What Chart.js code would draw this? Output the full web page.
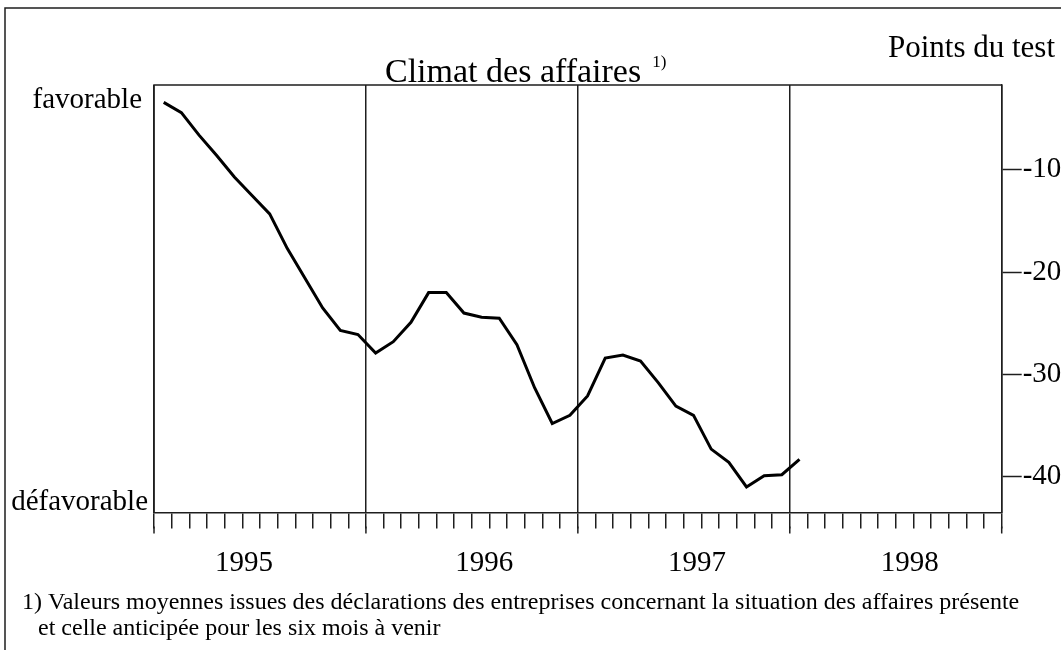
<!DOCTYPE html>
<html>
<head>
<meta charset="utf-8">
<script src="https://cdn.jsdelivr.net/npm/chart.js@4.4.1/dist/chart.umd.min.js"></script>
<style>
html, body { margin: 0; padding: 0; background: #fff; overflow: hidden; }
</style>
</head>
<body>
<canvas id="chart" width="1061" height="650"></canvas>
<script>
// Climat des affaires, valeurs mensuelles de janv. 1995 à janv. 1998 (points du test)
var yearLabels = ['1995', '1996', '1997', '1998'];
var values = [
    -3.4, -4.4, -6.6, -8.6, -10.7, -12.5, -14.3, -17.7, -20.6, -23.5, -25.7, -26.1,
    -27.9, -26.8, -24.9, -22.0, -22.0, -24.0, -24.4, -24.5, -27.1, -31.3, -34.8, -34.0,
    -32.1, -28.4, -28.1, -28.7, -30.8, -33.1, -34.0, -37.3, -38.6, -41.0, -39.9, -39.8,
    -38.3
];
var yTicks = [-10, -20, -30, -40];
var titleText = 'Climat des affaires';
var unitText = 'Points du test';
var topLabel = 'favorable';
var bottomLabel = 'défavorable';
var footnote = [
    '1) Valeurs moyennes issues des déclarations des entreprises concernant la situation des affaires présente',
    'et celle anticipée pour les six mois à venir'
];

var ink = '#1e1e1e';
var serif = "'Liberation Serif', 'Times New Roman', serif";

// textes, cadre, bords du graphique
var decor = {
    id: 'decor',
    afterDraw: function (chart) {
        var c = chart.ctx;
        var a = chart.chartArea;
        var xs = chart.scales.x;
        c.save();
        c.strokeStyle = ink;
        c.lineWidth = 1.5;
        // cadre extérieur
        c.strokeRect(5, 8, 1100, 700);
        // bords haut et gauche de la zone
        c.beginPath();
        c.moveTo(a.left, a.bottom);
        c.lineTo(a.left, a.top);
        c.lineTo(a.right, a.top);
        c.stroke();
        // graduations annuelles plus longues
        for (var m = 0; m <= 48; m += 12) {
            var px = xs.getPixelForValue(m);
            c.beginPath();
            c.moveTo(px, a.bottom + 14);
            c.lineTo(px, a.bottom + 21);
            c.stroke();
        }
        c.fillStyle = '#000';
        c.textBaseline = 'alphabetic';
        c.font = '29px ' + serif;
        c.textAlign = 'right';
        c.fillText(topLabel, a.left - 12, 108);
        c.fillText(bottomLabel, a.left - 6, 510);
        c.font = '31px ' + serif;
        c.fillText(unitText, 1055, 57);
        c.font = '29px ' + serif;
        c.textAlign = 'center';
        var yearPos = [5.1, 18.7, 30.75, 42.8];
        yearLabels.forEach(function (t, i) {
            c.fillText(t, xs.getPixelForValue(yearPos[i]), 571);
        });
        c.textAlign = 'left';
        c.font = '34px ' + serif;
        c.fillText(titleText, 385, 82);
        var w = c.measureText(titleText).width;
        c.font = '17px ' + serif;
        c.fillText('1)', 385 + w + 11, 67);
        c.font = '24px ' + serif;
        c.fillText(footnote[0], 22, 609);
        c.fillText(footnote[1], 38, 635);
        c.restore();
    }
};

var ctx = document.getElementById('chart').getContext('2d');
var chart = new Chart(ctx, {
    type: 'line',
    data: {
        datasets: [{
            data: values.map(function (v, i) { return { x: i + 0.55, y: v }; }),
            borderColor: '#000',
            borderWidth: 3,
            pointRadius: 0,
            tension: 0,
            fill: false
        }]
    },
    options: {
        responsive: false,
        animation: false,
        layout: { padding: { left: 154, top: 85, right: 0, bottom: 0 } },
        plugins: {
            legend: { display: false },
            tooltip: { enabled: false },
            title: { display: false }
        },
        scales: {
            x: {
                type: 'linear',
                min: 0,
                max: 48,
                afterBuildTicks: function (s) {
                    var t = [];
                    for (var m = 0; m <= 48; m++) t.push({ value: m });
                    s.ticks = t;
                },
                ticks: { display: false },
                grid: {
                    drawOnChartArea: true,
                    color: function (c) { return c.tick && c.tick.value % 12 === 0 ? ink : 'rgba(0,0,0,0)'; },
                    lineWidth: 1.5,
                    tickColor: ink,
                    tickWidth: 1.5,
                    tickLength: 16
                },
                border: { display: true, color: ink, width: 1.5 },
                afterFit: function (s) { s.height = 137.5; }
            },
            y: {
                position: 'right',
                min: -43.5,
                max: -1.7,
                afterBuildTicks: function (s) {
                    s.ticks = yTicks.map(function (v) { return { value: v }; });
                },
                ticks: { color: '#000', font: { family: serif, size: 29 }, padding: 1 },
                grid: { drawOnChartArea: false, tickLength: 20, tickColor: ink, tickWidth: 1.5 },
                border: { display: true, color: ink, width: 1.5 },
                afterFit: function (s) { s.width = 59.3; }
            }
        }
    },
    plugins: [decor]
});
</script>
</body>
</html>
